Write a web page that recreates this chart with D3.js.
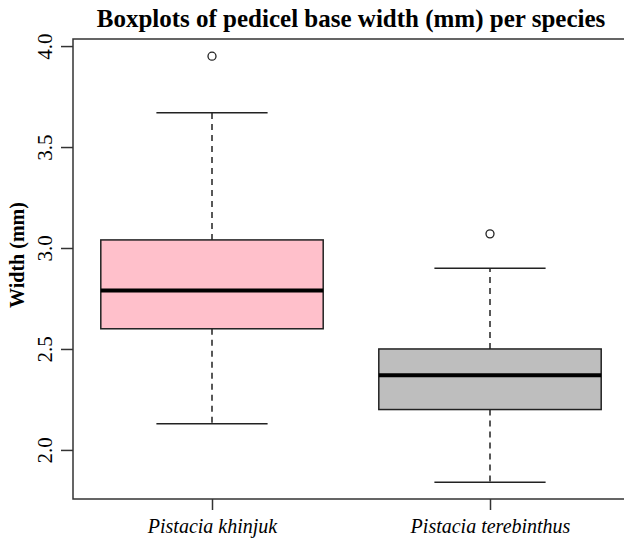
<!DOCTYPE html>
<html>
<head>
<meta charset="utf-8">
<script src="https://cdn.jsdelivr.net/npm/d3@7"></script>
<style>
  body { margin: 0; background: #fff; }
  svg { display: block; font-family: "Liberation Serif", "Times New Roman", serif; }
</style>
</head>
<body>
<svg width="624" height="538"></svg>
<script>
// values
var species = ["Pistacia khinjuk", "Pistacia terebinthus"];
var lowerWhisker = [2.13, 1.84];
var q1 = [2.60, 2.20];
var median = [2.79, 2.37];
var q3 = [3.04, 2.50];
var upperWhisker = [3.67, 2.90];
var outliers = [[3.95], [3.07]];
var fills = ["#FFC0CB", "#BEBEBE"];
var yTicks = [2.0, 2.5, 3.0, 3.5, 4.0];

var svg = d3.select("svg"),
  plotL = 73,
  plotR = 629,
  plotT = 39,
  plotB = 499;

var x = d3.scalePoint().domain(species).range([plotL, plotR]).padding(0.5);
var y = d3.scaleLinear().domain([1.757, 4.035]).range([plotB, plotT]);
var boxW = x.step() * 0.8;

var data = species.map(function(s, i) {
  return {
    name: s, lw: lowerWhisker[i], q1: q1[i], med: median[i], q3: q3[i],
    uw: upperWhisker[i], out: outliers[i], fill: fills[i]
  };
});

var g = svg.selectAll(".box").data(data).enter().append("g").attr("class", "box");

// dashed whiskers
g.append("line")
  .attr("x1", function(d) { return x(d.name); })
  .attr("x2", function(d) { return x(d.name); })
  .attr("y1", function(d) { return y(d.q3); })
  .attr("y2", function(d) { return y(d.uw); })
  .attr("stroke", "#222").attr("stroke-width", 1.5).attr("stroke-dasharray", "6,5");
g.append("line")
  .attr("x1", function(d) { return x(d.name); })
  .attr("x2", function(d) { return x(d.name); })
  .attr("y1", function(d) { return y(d.q1); })
  .attr("y2", function(d) { return y(d.lw); })
  .attr("stroke", "#222").attr("stroke-width", 1.5).attr("stroke-dasharray", "6,5");

// staples
["uw", "lw"].forEach(function(k) {
  g.append("line")
    .attr("x1", function(d) { return x(d.name) - boxW / 4; })
    .attr("x2", function(d) { return x(d.name) + boxW / 4; })
    .attr("y1", function(d) { return y(d[k]); })
    .attr("y2", function(d) { return y(d[k]); })
    .attr("stroke", "#222").attr("stroke-width", 1.5);
});

// boxes
g.append("rect")
  .attr("x", function(d) { return x(d.name) - boxW / 2; })
  .attr("y", function(d) { return y(d.q3); })
  .attr("width", boxW)
  .attr("height", function(d) { return y(d.q1) - y(d.q3); })
  .attr("fill", function(d) { return d.fill; })
  .attr("stroke", "#222").attr("stroke-width", 1.5);

// medians
g.append("line")
  .attr("x1", function(d) { return x(d.name) - boxW / 2; })
  .attr("x2", function(d) { return x(d.name) + boxW / 2; })
  .attr("y1", function(d) { return y(d.med); })
  .attr("y2", function(d) { return y(d.med); })
  .attr("stroke", "#000").attr("stroke-width", 4);

// outliers
g.selectAll("circle")
  .data(function(d) { return d.out.map(function(v) { return { name: d.name, v: v }; }); })
  .enter().append("circle")
  .attr("cx", function(d) { return x(d.name); })
  .attr("cy", function(d) { return y(d.v); })
  .attr("r", 4)
  .attr("fill", "none").attr("stroke", "#222").attr("stroke-width", 1.3);

// frame
svg.append("rect")
  .attr("x", plotL).attr("y", plotT)
  .attr("width", plotR - plotL).attr("height", plotB - plotT)
  .attr("fill", "none").attr("stroke", "#333").attr("stroke-width", 1.5);

// y axis
var ya = svg.append("g")
  .attr("transform", "translate(" + plotL + ",0)")
  .call(d3.axisLeft(y).tickValues(yTicks).tickFormat(d3.format(".1f")).tickSize(12));
ya.select(".domain").remove();
ya.selectAll(".tick line").attr("stroke", "#333").attr("stroke-width", 1.5);
ya.selectAll(".tick text")
  .attr("x", null).attr("dy", null)
  .attr("transform", "translate(-21,0) rotate(-90)")
  .attr("text-anchor", "middle")
  .attr("font-size", 21)
  .attr("font-family", "Liberation Serif")
  .attr("fill", "#000");

// x axis
var xa = svg.append("g")
  .attr("transform", "translate(0," + plotB + ")")
  .call(d3.axisBottom(x).tickSize(11));
xa.select(".domain").remove();
xa.selectAll(".tick line").attr("stroke", "#333").attr("stroke-width", 1.5);
xa.selectAll(".tick text")
  .attr("y", 34).attr("dy", null)
  .attr("font-size", 20)
  .attr("font-style", "italic")
  .attr("font-family", "Liberation Serif")
  .attr("fill", "#000");

// title
svg.append("text")
  .attr("x", (plotL + plotR) / 2)
  .attr("y", 27)
  .attr("text-anchor", "middle")
  .attr("font-size", 25)
  .attr("font-weight", "bold")
  .text("Boxplots of pedicel base width (mm) per species");

// y label
svg.append("text")
  .attr("transform", "translate(24,255) rotate(-90)")
  .attr("text-anchor", "middle")
  .attr("font-size", 20)
  .attr("font-weight", "bold")
  .text("Width (mm)");
</script>
</body>
</html>
